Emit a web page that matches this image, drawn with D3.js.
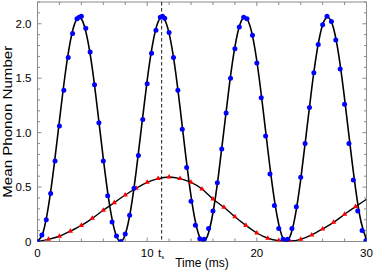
<html>
<head>
<script src="https://d3js.org/d3.v7.min.js"></script>
<style>
body { margin: 0; background: #fff; }
text { font-family: "Liberation Sans", Arial, sans-serif; fill: #000; }
</style>
</head>
<body>
<svg id="chart" width="374" height="279"></svg>
<script>
// measured mean phonon number, blue points (time in ms)
var blueT = [0, 0.4, 0.8, 1.2, 1.6, 2.0, 2.4, 2.8, 3.2, 3.6, 3.8, 4.0, 4.4, 4.8, 5.2, 5.6, 6.0, 6.4, 6.8, 7.2, 7.6,
             8.0, 8.4, 8.8, 9.2, 9.6, 10.0, 10.4, 10.8, 11.2, 11.4, 11.6, 12.0, 12.4, 12.8, 13.2, 13.6, 14.0, 14.4, 14.8, 15.2,
             15.6, 16.0, 16.4, 16.8, 17.2, 17.6, 18.0, 18.4, 18.8, 19.1, 19.6, 20.0, 20.4, 20.8, 21.2, 21.6, 22.0, 22.4, 22.8,
             23.2, 23.6, 24.0, 24.4, 24.8, 25.2, 25.6, 26.0, 26.4, 26.8, 27.2, 27.6, 28.0, 28.4, 28.8, 29.2, 29.6, 29.95]
var blueN = [0.0, 0.06, 0.2, 0.44, 0.74, 1.06, 1.39, 1.69, 1.91, 2.045, 2.06, 2.07, 1.96, 1.74, 1.44, 1.09, 0.74, 0.42, 0.18, 0.05, 0.0,
             0.07, 0.24, 0.49, 0.79, 1.12, 1.45, 1.73, 1.94, 2.06, 2.07, 2.05, 1.92, 1.69, 1.39, 1.03, 0.68, 0.37, 0.15, 0.025, 0.02,
             0.12, 0.28, 0.54, 0.85, 1.18, 1.5, 1.77, 1.97, 2.06, 2.045, 1.895, 1.64, 1.32, 0.97, 0.62, 0.33, 0.12, 0.02, 0.02,
             0.12, 0.32, 0.59, 0.9, 1.23, 1.55, 1.81, 1.99, 2.07, 2.02, 1.85, 1.585, 1.26, 0.9, 0.565, 0.28, 0.1, 0.01]

// fitted curve through the blue points
var fitT = [0, 0.5, 1, 1.5, 2, 2.5, 3, 3.5, 4, 4.5, 5, 5.5, 6, 6.5, 7, 7.5, 8, 8.5, 9, 9.5, 10,
            10.5, 11, 11.5, 12, 12.5, 13, 13.5, 14, 14.5, 15, 15.5, 16, 16.5, 17, 17.5, 18, 18.5, 19, 19.5, 20,
            20.5, 21, 21.5, 22, 22.5, 23, 23.5, 24, 24.5, 25, 25.5, 26, 26.5, 27, 27.5, 28, 28.5, 29, 29.5, 30]
var fitN = [0.0, 0.081, 0.324, 0.687, 1.109, 1.518, 1.842, 2.029, 2.046, 1.886, 1.588, 1.186, 0.761, 0.382, 0.114, 0.002,
            0.065, 0.293, 0.647, 1.066, 1.480, 1.815, 2.018, 2.051, 1.912, 1.624, 1.229, 0.803, 0.417, 0.135, 0.006,
            0.051, 0.264, 0.607, 1.023, 1.441, 1.787, 2.005, 2.056, 1.935, 1.658, 1.270, 0.845, 0.451, 0.158, 0.010,
            0.039, 0.236, 0.568, 0.981, 1.401, 1.757, 1.991, 2.059, 1.957, 1.691, 1.312, 0.887, 0.488, 0.181, 0.017]

// red triangles and their curve
var redT = [0, 1, 2, 3, 4, 5, 6, 7, 8, 9, 10, 11, 12, 13, 14, 15, 16, 17, 18, 19, 20, 21, 22, 23, 24, 25, 26, 27, 28, 29, 30]
var redN = [0.0, 0.02, 0.048, 0.095, 0.148, 0.213, 0.287, 0.357, 0.427, 0.489, 0.544, 0.578, 0.592, 0.578, 0.544, 0.482,
            0.39, 0.314, 0.228, 0.148, 0.078, 0.03, 0.008, 0.004, 0.02, 0.06, 0.115, 0.176, 0.25, 0.32, 0.388]

var tS = 11.32
var xTicks = [0, 10, 20, 30]
var yTicks = [0, 0.5, 1.0, 1.5, 2.0]

var pL = 37.5, pR = 366.5, pT = 2, pB = 241.5
var gray = "#8a8a8a"

var svg = d3.select("#chart")

var x = d3.scaleLinear().domain([0, 30]).range([pL, pR])
var y = d3.scaleLinear().domain([0, 2.2]).range([pB, pT])

svg.append("clipPath").attr("id", "clip")
  .append("rect").attr("x", pL).attr("y", pT).attr("width", pR - pL).attr("height", pB - pT)

// ticks, inside the frame on all four sides
var minorX = d3.range(0, 30.01, 2)
var minorY = d3.range(0, 2.21, 0.1)
var tk = svg.append("g").attr("stroke", gray).attr("stroke-width", 1)
minorX.forEach(function(v) {
  var len = (v % 10 == 0) ? 4 : 3
  tk.append("line").attr("x1", x(v)).attr("x2", x(v)).attr("y1", pB).attr("y2", pB - len)
  tk.append("line").attr("x1", x(v)).attr("x2", x(v)).attr("y1", pT).attr("y2", pT + len)
})
minorY.forEach(function(v, i) {
  var len = (i % 5 == 0) ? 4 : 2.5
  tk.append("line").attr("x1", pL).attr("x2", pL + len).attr("y1", y(v)).attr("y2", y(v))
  tk.append("line").attr("x1", pR).attr("x2", pR - len).attr("y1", y(v)).attr("y2", y(v))
})

// frame
svg.append("rect")
  .attr("x", pL).attr("y", pT).attr("width", pR - pL).attr("height", pB - pT)
  .attr("fill", "none").attr("stroke", gray).attr("stroke-width", 1)

// tick labels
svg.append("g").selectAll("text").data(xTicks).enter().append("text")
  .attr("x", function(d) { return x(d) }).attr("y", 257)
  .attr("text-anchor", "middle").style("font-size", "11.5px")
  .text(function(d) { return d })

svg.append("g").selectAll("text").data(yTicks).enter().append("text")
  .attr("x", 31.5).attr("y", function(d) { return y(d) + 4 })
  .attr("text-anchor", "end").style("font-size", "11.5px")
  .text(function(d) { return d == 0 ? "0" : d3.format(".1f")(d) })

// t_s label under the dashed line
svg.append("text").attr("x", x(tS) - 0.5).attr("y", 257).attr("text-anchor", "end").style("font-size", "11.5px").text("t")
svg.append("text").attr("x", x(tS) - 0.3).attr("y", 259).style("font-size", "6px").text("s")

// axis titles
svg.append("text").attr("x", (pL + pR) / 2).attr("y", 267)
  .attr("text-anchor", "middle").style("font-size", "12px").text("Time (ms)")
svg.append("text")
  .attr("transform", "translate(12," + ((pT + pB) / 2) + ") rotate(-90)")
  .attr("text-anchor", "middle").style("font-size", "12px")
  .attr("textLength", 152).attr("lengthAdjust", "spacingAndGlyphs")
  .text("Mean Phonon Number")

var plot = svg.append("g").attr("clip-path", "url(#clip)")

// dashed marker at t_s
plot.append("line")
  .attr("x1", x(tS)).attr("x2", x(tS)).attr("y1", pT).attr("y2", pB)
  .attr("stroke", "#000").attr("stroke-width", 0.9).attr("stroke-dasharray", "3.5,2.5")

var fitLine = d3.line().x(function(d, i) { return x(fitT[i]) }).y(function(d) { return y(d) }).curve(d3.curveNatural)
plot.append("path").attr("d", fitLine(fitN))
  .attr("fill", "none").attr("stroke", "#000").attr("stroke-width", 1.6)

var redLine = d3.line().x(function(d, i) { return x(redT[i]) }).y(function(d) { return y(d) }).curve(d3.curveNatural)
plot.append("path").attr("d", redLine(redN))
  .attr("fill", "none").attr("stroke", "#000").attr("stroke-width", 1.4)

// red triangles
var tri = d3.symbol().type(d3.symbolTriangle).size(12)
plot.append("g").selectAll("path")
  .data(redT.filter(function(t) { return t > 0 && t < 30 }))
  .enter().append("path")
  .attr("d", tri)
  .attr("transform", function(t) { return "translate(" + x(t) + "," + y(redN[redT.indexOf(t)]) + ")" })
  .attr("fill", "#f00")

// blue points
plot.append("g").selectAll("circle")
  .data(blueT).enter().append("circle")
  .attr("cx", function(d) { return x(d) })
  .attr("cy", function(d, i) { return y(blueN[i]) })
  .attr("r", 2.5)
  .attr("fill", "#0000ff")
</script>
</body>
</html>
